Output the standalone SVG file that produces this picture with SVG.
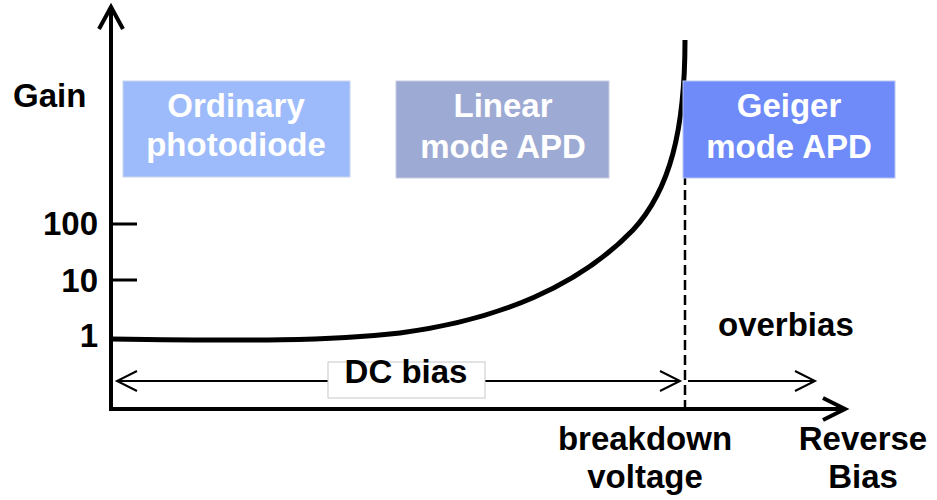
<svg xmlns="http://www.w3.org/2000/svg" width="937" height="500" viewBox="0 0 937 500">
<style>
text{font-family:"Liberation Sans",Arial,sans-serif;font-weight:bold;font-size:33px;fill:#000}
.w{fill:#fff;text-anchor:middle}
.m{text-anchor:middle}
.e{text-anchor:end}
.ax{stroke:#000;stroke-width:4;fill:none}
.thin{stroke:#000;stroke-width:2;fill:none}
</style>
<rect width="937" height="500" fill="#fff"/>
<g id="connectors">
  <path class="ax" d="M111,410 V7"/>
  <path class="ax" d="M99,29 L111,7 L123,29"/>
  <path class="ax" d="M109,409 H845"/>
  <path class="ax" d="M823,398 L845,409 L823,420"/>
  <path stroke="#000" stroke-width="3" d="M111,224 H137 M111,280 H137"/>
  <path stroke="#000" stroke-width="5" fill="none" d="M111,339 C250,341 330,341 400,333 C500,320 580,285 633,230 C670,190 685,130 685,40"/>
  <path stroke="#000" stroke-width="2.5" stroke-dasharray="10,5" d="M685,100 V412"/>
  <path class="thin" d="M117,381 H680 M137,371 L117,381 L137,391 M660,371 L680,381 L660,391"/>
  <path class="thin" d="M688,381 H815 M795,371 L815,381 L795,391"/>
</g>
<g id="gain-label"><text x="13" y="107">Gain</text></g>
<g id="ticks-labels">
  <text class="e" x="98" y="235">100</text>
  <text class="e" x="98" y="292">10</text>
  <text class="e" x="98" y="347">1</text>
</g>
<g id="ordinary">
  <rect x="123" y="81" width="227" height="96" fill="#9DBBFA" stroke="#C8D4EC" stroke-width="1"/>
  <text class="w" x="236" y="117">Ordinary</text>
  <text class="w" x="236" y="156">photodiode</text>
</g>
<g id="linear">
  <rect x="396" y="81" width="213" height="97" fill="#9DAAD3" stroke="#C8CEE2" stroke-width="1"/>
  <text class="w" x="503" y="117">Linear</text>
  <text class="w" x="503" y="158">mode APD</text>
</g>
<g id="geiger">
  <rect x="683" y="81" width="212" height="97" fill="#6F8BF9" stroke="#B8C4F0" stroke-width="1"/>
  <text class="w" x="789" y="117">Geiger</text>
  <text class="w" x="789" y="158">mode APD</text>
</g>
<g id="dcbias">
  <rect x="328" y="362" width="157" height="36" fill="#fff" stroke="#C8C8C8" stroke-width="1"/>
  <text class="m" x="406" y="383">DC bias</text>
</g>
<g id="overbias"><text x="718" y="336">overbias</text></g>
<g id="breakdown">
  <text class="m" x="645" y="450">breakdown</text>
  <text class="m" x="645" y="488">voltage</text>
</g>
<g id="reverse">
  <text class="m" x="863" y="450">Reverse</text>
  <text class="m" x="863" y="488">Bias</text>
</g>
</svg>
